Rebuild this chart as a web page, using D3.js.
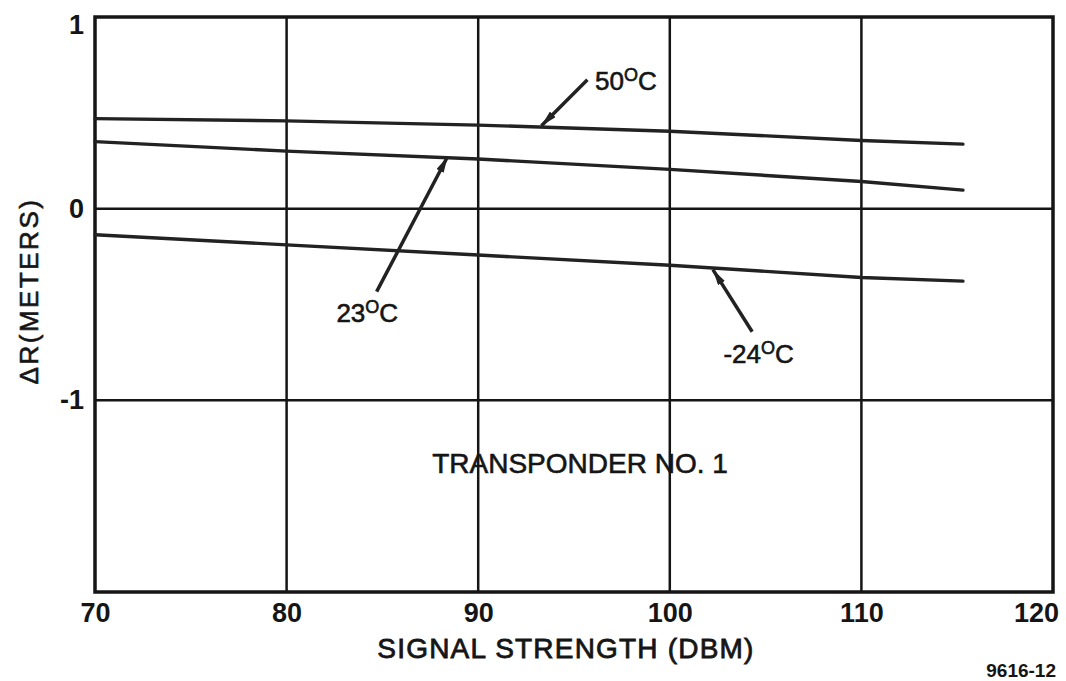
<!DOCTYPE html>
<html>
<head>
<meta charset="utf-8">
<script src="https://cdn.jsdelivr.net/npm/d3@7"></script>
<style>
  html, body { margin: 0; padding: 0; background: #fff; }
  svg { display: block; font-family: "Liberation Sans", Arial, Helvetica, sans-serif; }
</style>
</head>
<body>
<svg id="chart" width="1066" height="681"></svg>
<script>
// signal strength (dBm) where each curve was read
const xTicks = [70, 80, 90, 100, 110, 120];
const yTicks = [1, 0, -1];

const dbm = [70, 80, 90, 100, 110, 115.3];
const r50 = [0.47, 0.458, 0.436, 0.404, 0.356, 0.337];
const r23 = [0.35, 0.30, 0.259, 0.205, 0.142, 0.097];
const rM24 = [-0.136, -0.189, -0.242, -0.295, -0.359, -0.378];

const seriesNames = ["50", "23", "-24"];
const seriesValues = [r50, r23, rM24];

// arrow callouts: tip on the curve, tail near the label (data units)
const arrowTips = [[93.3, 0.433], [88.4, 0.271], [102.25, -0.318]];
const arrowTails = [[95.7, 0.673], [84.7, -0.433], [104.3, -0.642]];
const labelPos = [[96.1, 0.621], [82.6, -0.589], [102.8, -0.803]];

const note = "TRANSPONDER NO. 1";
const notePos = [87.6, -1.377];

const margin = { top: 17, right: 13, bottom: 89, left: 95 };
const width = 1066 - margin.left - margin.right;
const height = 681 - margin.top - margin.bottom;

const svg = d3.select("#chart");
const g = svg.append("g").attr("transform", `translate(${margin.left},${margin.top})`);

const x = d3.scaleLinear().domain([70, 120]).range([0, width]);
const y = d3.scaleLinear().domain([-2, 1]).range([height, 0]);

const ink = "#151515";

// grid lines
g.append("g")
  .selectAll("line")
  .data(xTicks.slice(1, -1))
  .join("line")
  .attr("x1", d => x(d)).attr("x2", d => x(d))
  .attr("y1", 0).attr("y2", height)
  .attr("stroke", ink).attr("stroke-width", 2.5);

g.append("g")
  .selectAll("line")
  .data([0, -1])
  .join("line")
  .attr("x1", 0).attr("x2", width)
  .attr("y1", d => y(d)).attr("y2", d => y(d))
  .attr("stroke", ink).attr("stroke-width", 2.5);

// frame
g.append("rect")
  .attr("width", width).attr("height", height)
  .attr("fill", "none").attr("stroke", ink).attr("stroke-width", 3.5);

// x tick labels
const xAxis = d3.axisBottom(x).tickValues(xTicks).tickSize(0).tickPadding(11);
g.append("g")
  .attr("transform", `translate(0,${height})`)
  .call(xAxis)
  .call(a => a.select(".domain").remove())
  .selectAll("text")
  .attr("font-family", "Liberation Sans, Arial, sans-serif")
  .attr("font-size", 27).attr("font-weight", "bold").attr("fill", ink)
  .attr("dx", d => d === 120 ? -17 : 0);

// y tick labels
const yAxis = d3.axisLeft(y).tickValues(yTicks).tickSize(0).tickPadding(11)
  .tickFormat(d => String(d));
g.append("g")
  .call(yAxis)
  .call(a => a.select(".domain").remove())
  .selectAll("text")
  .attr("font-family", "Liberation Sans, Arial, sans-serif")
  .attr("font-size", 27).attr("font-weight", "bold").attr("fill", ink)
  .attr("dy", d => d === 1 ? "0.6em" : "0.32em");

// curves
const line = d3.line().x(d => x(d[0])).y(d => y(d[1]));
seriesValues.forEach(vals => {
  g.append("path")
    .datum(dbm.map((d, i) => [d, vals[i]]))
    .attr("d", line)
    .attr("fill", "none")
    .attr("stroke", "#222")
    .attr("stroke-width", 3.4)
    .attr("stroke-linecap", "round");
});

// arrowhead
svg.append("defs").append("marker")
  .attr("id", "head")
  .attr("viewBox", "0 0 16 8")
  .attr("refX", 16).attr("refY", 4)
  .attr("markerWidth", 16).attr("markerHeight", 8)
  .attr("markerUnits", "userSpaceOnUse")
  .attr("orient", "auto")
  .append("path")
  .attr("d", "M0,0 L16,4 L0,8 Z")
  .attr("fill", "#222");

arrowTips.forEach((tip, i) => {
  g.append("line")
    .attr("x1", x(arrowTails[i][0])).attr("y1", y(arrowTails[i][1]))
    .attr("x2", x(tip[0])).attr("y2", y(tip[1]))
    .attr("stroke", "#222").attr("stroke-width", 3.5)
    .attr("marker-end", "url(#head)");
});

// temperature labels with raised "O" for degrees
labelPos.forEach((p, i) => {
  const t = g.append("text")
    .attr("x", x(p[0])).attr("y", y(p[1]))
    .attr("font-size", 26).attr("fill", ink)
    .attr("stroke", ink).attr("stroke-width", 0.6);
  t.append("tspan").text(seriesNames[i]);
  t.append("tspan").attr("dy", -9).attr("font-size", 18).text("O");
  t.append("tspan").attr("dy", 9).text("C");
});

g.append("text")
  .attr("x", x(notePos[0])).attr("y", y(notePos[1]))
  .attr("font-size", 28).attr("fill", ink)
  .attr("stroke", ink).attr("stroke-width", 0.6)
  .text(note);

// axis titles
svg.append("text")
  .attr("x", 566).attr("y", 658)
  .attr("text-anchor", "middle")
  .attr("font-size", 28).attr("fill", ink)
  .attr("stroke", ink).attr("stroke-width", 0.8)
  .attr("letter-spacing", 1.2)
  .text("SIGNAL STRENGTH (DBM)");

svg.append("text")
  .attr("transform", "translate(38,291) rotate(-90)")
  .attr("text-anchor", "middle")
  .attr("font-size", 26).attr("fill", ink)
  .attr("stroke", ink).attr("stroke-width", 0.6)
  .attr("letter-spacing", 2.5)
  .text("ΔR(METERS)");

svg.append("text")
  .attr("x", 1056).attr("y", 677)
  .attr("text-anchor", "end")
  .attr("font-size", 19).attr("font-weight", "bold").attr("fill", ink)
  .text("9616-12");
</script>
</body>
</html>
